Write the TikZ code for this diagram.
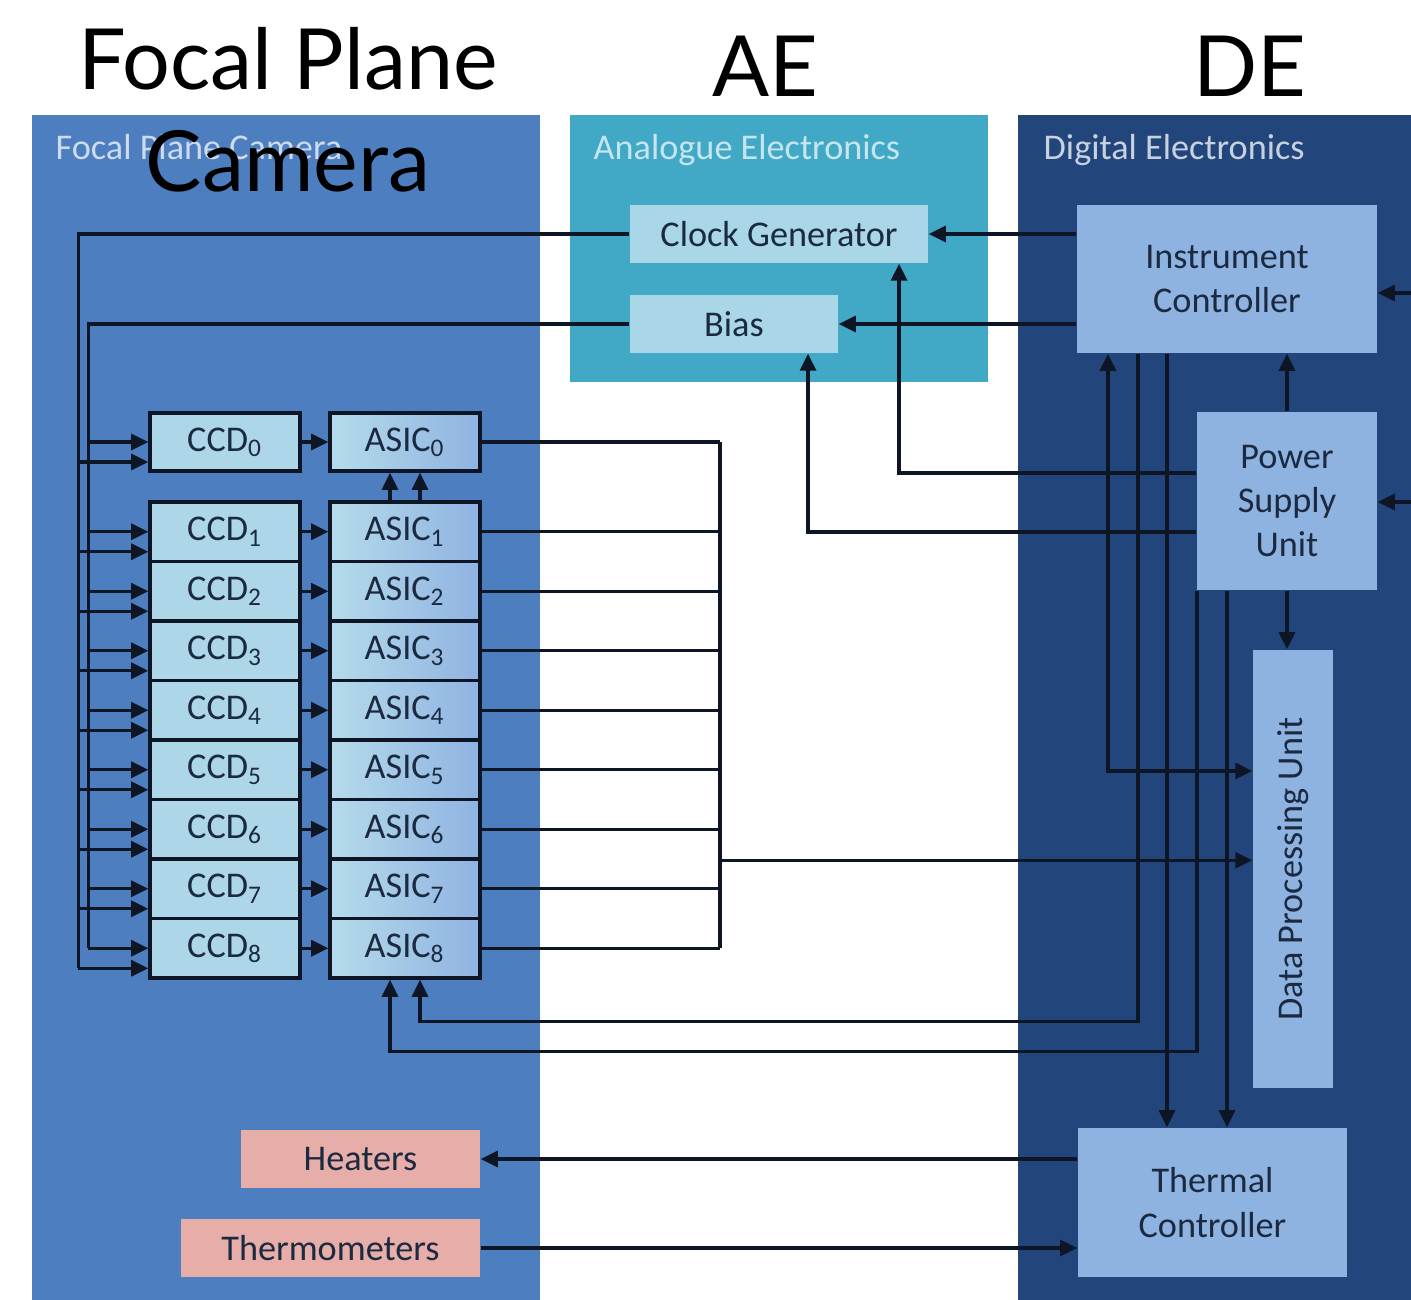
\documentclass[tikz,border=0pt]{standalone}
\usepackage{fontspec}
\setmainfont{Carlito}
\newfontfamily\titlefont{Lato}
\usetikzlibrary{arrows.meta}

\definecolor{fpcblue}{HTML}{4D7EBF}
\definecolor{aeteal}{HTML}{41A9C6}
\definecolor{denavy}{HTML}{22457C}
\definecolor{deunitcol}{HTML}{8FB3E1}
\definecolor{aeunitcol}{HTML}{A9D7E7}
\definecolor{ccdcol}{HTML}{ADD7E9}
\definecolor{heatcol}{HTML}{E6ADA9}
\definecolor{wirecol}{HTML}{0E1626}
\definecolor{boxtext}{HTML}{1B2A40}

\tikzset{
  unitbox/.style={rectangle, inner sep=0pt, align=center, text=boxtext, font=\fontsize{10.3}{12.6}\selectfont},
  deunit/.style={unitbox, fill=deunitcol},
  aeunit/.style={unitbox, fill=aeunitcol, minimum height=0.58cm},
  ccdbox/.style={unitbox, fill=ccdcol, draw=wirecol, line width=1pt, minimum width=1.5cm, minimum height=0.595cm},
  asicbox/.style={ccdbox, left color=ccdcol!90!white, right color=deunitcol},
  heatbox/.style={unitbox, fill=heatcol, minimum height=0.58cm},
  panellabel/.style={anchor=base west, inner sep=0pt, font=\fontsize{10.3}{12}\selectfont},
  bigtitle/.style={anchor=base, inner sep=0pt, font=\titlefont\fontsize{24}{28}\selectfont},
  wire/.style={draw=wirecol, line width=0.9pt},
  arr/.style={wire, -{Triangle[length=0.17cm, width=0.16cm]}},
}

\begin{document}
\begin{tikzpicture}[x=0.01cm, y=-0.01cm]
	\useasboundingbox (0,0) rectangle (1411,1300);
	\fill[white] (0,0) rectangle (1411,1300);

	% the three panels
	\fill[fpcblue] (32,115) rectangle (540,1300);
	\fill[aeteal] (570,115) rectangle (988,382);
	\fill[denavy] (1018,115) rectangle (1411,1300);
	\node[panellabel, text=white!72!fpcblue] (fpclabel) at (55,160) {Focal Plane Camera};
	\node[panellabel, text=white!70!aeteal] (aelabel) at (593,160) {Analogue Electronics};
	\node[panellabel, text=white!75!denavy] (delabel) at (1043,160) {Digital Electronics};

	% analogue electronics
	\node[aeunit, minimum width=2.98cm] (clk) at (779,234) {Clock Generator};
	\node[aeunit, minimum width=2.08cm] (bias) at (734,324) {Bias};

	% digital electronics
	\node[deunit, minimum width=3cm, minimum height=1.48cm] (ic) at (1227,279) {Instrument\\Controller};
	\node[deunit, minimum width=1.8cm, minimum height=1.78cm] (psu) at (1287,501) {Power\\Supply\\Unit};
	\node[deunit, minimum width=0.8cm, minimum height=4.38cm] (dpu) at (1293,869) {\rotatebox{90}{Data Processing Unit}};
	\node[deunit, minimum width=2.69cm, minimum height=1.49cm] (tc) at (1212.5,1202.5) {Thermal\\Controller};

	% focal plane camera
	\node[ccdbox, minimum height=0.58cm] (ccd0) at (225,442) {CCD\textsubscript{0}};
	\node[asicbox, minimum height=0.58cm] (asic0) at (405,442) {ASIC\textsubscript{0}};
	\foreach \i in {1,...,8} {
		\pgfmathsetmacro\yy{472.25+59.5*\i}
		\node[ccdbox] (ccd\i) at (225,\yy) {CCD\textsubscript{\i}};
		\node[asicbox] (asic\i) at (405,\yy) {ASIC\textsubscript{\i}};
	}
	\node[heatbox, minimum width=2.39cm] (heat) at (360.5,1159) {Heaters};
	\node[heatbox, minimum width=2.99cm] (therm) at (330.5,1248) {Thermometers};

	% clock and bias buses
	\draw[wire] (clk.west) -| ([xshift=-0.7cm, yshift=-0.2cm]ccd8.west);
	\draw[wire] (bias.west) -| ([xshift=-0.6cm]ccd8.west);
	\foreach \i in {0,...,8} {
		\draw[arr] ([xshift=-0.6cm]ccd\i.west) -- (ccd\i.west);
		\draw[arr] ([xshift=-0.7cm, yshift=-0.2cm]ccd\i.west) -- ([yshift=-0.2cm]ccd\i.west);
		\draw[arr] (ccd\i.east) -- (asic\i.west);
		\draw[wire] (asic\i.east) -- ([xshift=2.38cm]asic\i.east);
	}
	\draw[arr] ([xshift=-0.15cm]asic1.north) -- ([xshift=-0.15cm]asic0.south);
	\draw[arr] ([xshift=0.15cm]asic1.north) -- ([xshift=0.15cm]asic0.south);

	% science data to the DPU
	\draw[wire] ([xshift=2.38cm]asic0.east) -- ([xshift=2.38cm]asic8.east);
	\coordinate (collect) at ([xshift=2.38cm, yshift=-0.31cm]asic6.east);
	\draw[arr] (collect) -- (collect -| dpu.west);

	% instrument controller and power supply links
	\coordinate (icfeed) at (1411,293);
	\coordinate (psufeed) at (1411,502);
	\draw[arr] (icfeed) -- (icfeed -| ic.east);
	\draw[arr] (psufeed) -- (psufeed -| psu.east);
	\draw[arr] (ic.west |- clk.east) -- (clk.east);
	\draw[arr] (ic.west |- bias.east) -- (bias.east);
	\draw[arr] ([yshift=0.28cm]psu.west) -| ([xshift=1.2cm]clk.south);
	\draw[arr] ([yshift=-0.31cm]psu.west) -| ([xshift=0.74cm]bias.south);
	\draw[arr] (psu.north) -- (psu.north |- ic.south);
	\draw[arr] (psu.south) -- (psu.south |- dpu.north);

	\coordinate (icA) at ([xshift=-1.19cm]ic.south);
	\coordinate (icB) at ([xshift=-0.89cm]ic.south);
	\coordinate (icC) at ([xshift=-0.6cm]ic.south);
	\coordinate (psuA) at ([xshift=-0.9cm]psu.south);
	\coordinate (psuB) at ([xshift=-0.6cm]psu.south);
	\draw[wire, {Triangle[length=0.17cm, width=0.16cm]}-{Triangle[length=0.17cm, width=0.16cm]}] (icA) |- ([yshift=0.98cm]dpu.west);
	\draw[arr] (icB) |- ([xshift=0.15cm, yshift=-0.42cm]asic8.south) -- ([xshift=0.15cm]asic8.south);
	\draw[arr] (psuA) |- ([xshift=-0.15cm, yshift=-0.72cm]asic8.south) -- ([xshift=-0.15cm]asic8.south);
	\draw[arr] (icC) -- (icC |- tc.north);
	\draw[arr] (psuB) -- (psuB |- tc.north);

	% thermal control
	\draw[arr] (tc.west |- heat.east) -- (heat.east);
	\draw[arr] (therm.east) -- (therm.east -| tc.west);

	% titles
	\node[bigtitle] (titlefp) at (288,90) {Focal Plane};
	\node[bigtitle] (titlecam) at (288,192) {Camera};
	\node[bigtitle] (titleae) at (765,97) {AE};
	\node[bigtitle] (titlede) at (1250,97) {DE};
\end{tikzpicture}
\end{document}
